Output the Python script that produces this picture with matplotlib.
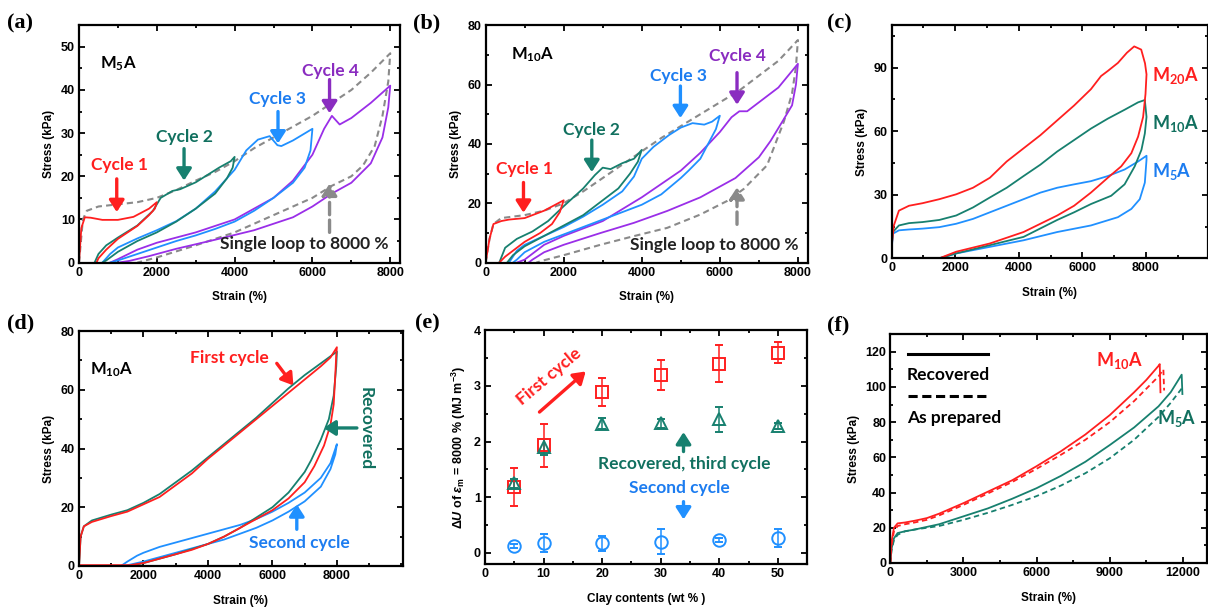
import matplotlib.pyplot as plt
from matplotlib.ticker import MultipleLocator

plt.rcParams['font.family'] = ['Liberation Sans', 'DejaVu Sans']
plt.rcParams['mathtext.fontset'] = 'custom'
plt.rcParams['mathtext.rm'] = 'Liberation Sans:bold'
plt.rcParams['mathtext.it'] = 'Liberation Sans:italic:bold'
plt.rcParams['mathtext.bf'] = 'Lato:bold'

RED = '#ff1f1f'
TEAL = '#17806f'
BLUE = '#2090ff'
PURPLE = '#9a2ee8'
GRAY = '#8a8a8a'
TEAL_T = '#11705f'
BLUE_T = '#1c7cf0'
PURPLE_T = '#8a2cc0'

# ---------- (a) M5A step cycles ----------
a_c1_x = [0, 60, 150, 300, 600, 1000, 1400, 1800, 2000, 1950, 1800, 1500, 1000, 700, 500, 450]
a_c1_y = [0, 8, 10.5, 10.4, 9.9, 9.9, 10.6, 12.5, 14, 12.5, 11, 8.5, 5.5, 3, 1, 0]
a_c2_x = [400, 500, 700, 1000, 1500, 1900, 2100, 2400, 2600, 3000, 3600, 3900, 4000, 3950, 3800, 3500, 3000, 2500, 2000, 1500, 1000, 700, 600]
a_c2_y = [0, 2, 4, 5.8, 8.6, 12, 15, 16.6, 17, 18.6, 22, 23.5, 24.5, 22, 19.5, 16, 12.5, 9.5, 7, 5, 2.5, 0.5, 0]
a_c3_x = [600, 800, 1000, 1500, 2000, 2500, 3000, 3500, 4000, 4300, 4600, 4900, 5100, 5200, 5500, 6000, 5950, 5800, 5500, 5000, 4500, 4000, 3500, 3000, 2500, 2000, 1500, 1000, 800]
a_c3_y = [0, 2, 3.5, 5.6, 7.5, 9.6, 12.5, 16.5, 21.5, 26, 28.5, 29.3, 27.2, 27, 28.3, 31, 26, 22, 18.5, 15, 12, 9.5, 7.8, 6.3, 5, 3.5, 2, 0.5, 0]
a_c4_x = [800, 1000, 1500, 2000, 3000, 4000, 5000, 5500, 6000, 6300, 6500, 6700, 7000, 7500, 8000, 7950, 7800, 7500, 7000, 6500, 6000, 5500, 4500, 3500, 2500, 1800, 1300, 1000]
a_c4_y = [0, 0.8, 3, 4.6, 7, 10, 15, 19, 25, 31, 34, 32, 33.5, 37, 41, 36, 29, 23, 18.5, 16, 13, 10.5, 7.5, 5.3, 3.2, 1.5, 0.4, 0]
a_sl_x = [0, 100, 200, 500, 1000, 1500, 2000, 2500, 3000, 3500, 4000, 4500, 5000, 5500, 6000, 6500, 7000, 7500, 8000, 7950, 7800, 7600, 7300, 7000, 6500, 6000, 5500, 5000, 4500, 4000, 3500, 3000, 2500, 2000, 1500]
a_sl_y = [0, 10, 12, 13, 13.5, 14, 15, 16.8, 19, 21, 23.5, 26.5, 29, 31.5, 34, 37, 40, 44, 48.5, 42, 34, 27, 22.5, 20, 17.8, 15, 13, 11, 9, 7, 5.5, 4, 2.6, 1.2, 0]

# ---------- (b) M10A step cycles ----------
b_c1_x = [0, 100, 200, 400, 600, 1000, 1500, 2000, 1900, 1700, 1400, 1000, 700, 500, 350]
b_c1_y = [0, 8, 13, 14, 14.5, 15, 17.5, 21, 17, 13, 10, 7, 4, 2, 0]
b_c2_x = [350, 500, 800, 1200, 1600, 2000, 2500, 2800, 3000, 3200, 3500, 3800, 4000, 3900, 3700, 3400, 3000, 2500, 2000, 1500, 1000, 700, 550]
b_c2_y = [0, 5, 8, 10.5, 14, 19, 25, 29.5, 32, 31.5, 33.5, 35, 38, 34, 30, 25, 21, 16, 12.5, 9, 5.5, 2.5, 0]
b_c3_x = [600, 800, 1000, 1500, 2000, 2500, 3000, 3500, 3800, 4000, 4300, 4700, 5000, 5300, 5600, 5800, 6000, 5900, 5700, 5500, 5200, 5000, 4500, 4000, 3500, 3000, 2500, 2000, 1500, 1000, 800, 700]
b_c3_y = [0, 4, 6, 9, 12, 15.5, 19.5, 24, 29, 35, 39, 43, 45.5, 47, 46.5, 47.5, 49.5, 45, 40, 35, 31, 28.5, 23, 19.5, 17, 14.5, 12, 9.5, 7, 3.5, 1, 0]
b_c4_x = [800, 1000, 1500, 2000, 3000, 4000, 5000, 5500, 6000, 6300, 6500, 6700, 7000, 7500, 8000, 7950, 7850, 7600, 7300, 7000, 6400, 5500, 4650, 3800, 2950, 2000, 1500, 1200, 1100]
b_c4_y = [0, 1, 6, 9, 14, 22, 31, 37, 44, 49, 51, 51, 54, 59, 67, 60, 53, 47.5, 41, 35.5, 28.5, 22, 17.4, 13.4, 10, 6, 3.5, 1, 0]
b_sl_x = [0, 100, 200, 400, 1000, 1500, 2000, 2500, 3000, 3500, 4000, 4500, 5000, 5500, 6000, 6500, 7000, 7500, 8000, 7950, 7850, 7640, 7210, 6610, 6190, 5500, 4650, 3790, 2940, 2000, 1500, 1300]
b_sl_y = [0, 8, 13, 15, 16, 17.5, 20, 24, 28.5, 33, 37.5, 42, 46, 50, 54, 58, 63, 68, 75, 66, 57, 47.5, 32.8, 24.8, 20.8, 16.2, 11.7, 8.9, 6, 2.5, 0.8, 0]

# ---------- (c) first cycles to 8000 % ----------
c_m20_x = [0, 20, 74, 233, 550, 974, 1504, 2033, 2563, 3092, 3622, 4151, 4681, 5210, 5740, 6269, 6587, 6799, 7117, 7400, 7630, 7850, 7970, 8017, 7985, 7910, 7752, 7540, 7222, 6799, 6269, 5740, 5210, 4151, 3092, 2033, 1504, 0]
c_m20_y = [0, 8, 15.5, 22.5, 24.8, 26, 27.9, 30.2, 33.3, 38, 45.7, 51.9, 58.1, 65.1, 72.1, 79.8, 86, 88.4, 92.2, 97, 100, 98.5, 92, 86.8, 77.5, 66.7, 57.4, 49.6, 43.4, 38, 31, 24.8, 20.2, 12.4, 7, 3.1, 0, 0]
c_m10_x = [0, 15, 42, 233, 550, 974, 1504, 2033, 2563, 3092, 3622, 4151, 4681, 5210, 5740, 6269, 6799, 7328, 7752, 7964, 8017, 7964, 7858, 7646, 7328, 6905, 6269, 5740, 5210, 4151, 3092, 2033, 1504]
c_m10_y = [0, 7, 12.4, 15.5, 16.6, 17.1, 18.1, 20.2, 24, 28.7, 33.3, 38.8, 44.2, 50.4, 55.8, 61.2, 65.9, 70.1, 73.6, 74.7, 66.7, 58.9, 51.2, 43.4, 34.9, 29.5, 25.6, 21.7, 18.1, 10.1, 6.2, 2.3, 0]
c_m5_x = [0, 15, 42, 233, 550, 974, 1504, 2033, 2563, 3092, 3622, 4151, 4681, 5210, 5740, 6269, 6799, 7328, 7752, 8017, 8017, 7964, 7805, 7540, 7117, 6269, 5210, 4151, 3092, 2033, 1504]
c_m5_y = [0, 6, 11.6, 13.2, 13.6, 14, 14.7, 16.3, 18.6, 21.7, 24.8, 27.9, 31, 33.3, 34.9, 36.4, 38.8, 41.9, 45.7, 48.4, 46.5, 35.7, 27.9, 23.3, 19.4, 15.5, 12.4, 8.5, 5.4, 2.3, 0]

# ---------- (d) M10A first / second / recovered ----------
d_first_x = [0, 50, 150, 400, 1000, 1500, 2000, 2500, 3000, 3500, 4000, 4500, 5000, 5500, 6000, 6500, 7000, 7500, 7800, 8000, 7980, 7950, 7900, 7800, 7600, 7300, 7000, 6500, 6000, 5500, 5000, 4500, 4000, 3500, 3000, 2500, 2000, 1600, 0]
d_first_y = [0, 10, 13.5, 15, 17, 18.5, 21, 23.5, 27.5, 31.5, 36.5, 41, 45.5, 50, 54.5, 59, 63.5, 68, 71, 74.5, 72, 65, 55, 48, 41, 34, 28.5, 23, 19, 16, 13, 10, 7.5, 5.5, 4, 2.5, 1, 0.3, 0.3]
d_rec_x = [0, 50, 150, 400, 1000, 1500, 2000, 2500, 3000, 3500, 4000, 4500, 5000, 5500, 6000, 6500, 7000, 7500, 8000, 7980, 7900, 7750, 7500, 7200, 7000, 6500, 6000, 5500, 5000, 4500, 4000, 3000, 2000, 1600, 0]
d_rec_y = [0, 10, 13.5, 15.5, 17.5, 19, 21.5, 24.5, 28.5, 32.5, 37, 41.5, 46, 50.5, 55.5, 60.5, 65, 69, 73, 68, 58, 50, 43, 36, 32, 25, 20, 16.5, 13, 10, 7.5, 4, 1, 0, 0]
d_sec_x = [1300, 1500, 1800, 2000, 2500, 3000, 3500, 4000, 4500, 5000, 5500, 6000, 6500, 7000, 7500, 7800, 8000, 7950, 7800, 7500, 7000, 6500, 6000, 5500, 5000, 4500, 4000, 3500, 3000, 2500, 2000, 1600, 1400]
d_sec_y = [0, 1.5, 3.5, 4.5, 6.5, 8, 9.5, 11, 12.5, 14, 16, 18.5, 21.5, 25, 30, 35, 41.5, 38, 33, 27, 22, 18.5, 15.5, 13, 11, 9, 7.5, 6, 4.5, 3, 1.5, 0.5, 0]

# ---------- (e) dissipated energy vs clay content ----------
clay = [5, 10, 20, 30, 40, 50]
du_first = [1.19, 1.93, 2.89, 3.2, 3.4, 3.6]
du_first_err = [0.34, 0.38, 0.26, 0.27, 0.33, 0.18]
du_rec = [1.25, 1.9, 2.32, 2.33, 2.4, 2.28]
du_rec_err = [0.08, 0.15, 0.1, 0.08, 0.22, 0.05]
du_second = [0.12, 0.18, 0.17, 0.2, 0.23, 0.27]
du_second_err = [0.04, 0.16, 0.14, 0.22, 0.04, 0.16]

# ---------- (f) tensile to break ----------
f_m10_rec_x = [0, 50, 150, 300, 600, 1000, 1500, 2000, 3000, 4000, 5000, 6000, 7000, 8000, 9000, 10000, 10500, 11000, 11050, 11080]
f_m10_rec_y = [0, 12, 20, 22.5, 23, 24, 25.5, 28, 34, 40.5, 47, 55, 63.5, 73, 84, 97, 104, 112, 113, 97]
f_m10_prep_x = [0, 50, 150, 300, 600, 1000, 1500, 2000, 3000, 4000, 5000, 6000, 7000, 8000, 9000, 10000, 10500, 11000, 11200, 11230]
f_m10_prep_y = [0, 10, 18, 21, 22, 23, 24.5, 27, 33, 39.5, 46, 53.5, 61.5, 70, 80, 92, 99, 106, 110, 98]
f_m5_rec_x = [0, 50, 150, 300, 600, 1000, 2000, 3000, 4000, 5000, 6000, 7000, 8000, 9000, 10000, 11000, 11500, 11950, 11980]
f_m5_rec_y = [0, 8, 14, 17, 18, 19, 22, 26.5, 31, 36.5, 42.5, 49.5, 57.5, 67, 77, 89, 97, 107, 96]
f_m5_prep_x = [0, 50, 150, 300, 600, 1000, 2000, 3000, 4000, 5000, 6000, 7000, 8000, 9000, 10000, 11000, 11500, 12000]
f_m5_prep_y = [0, 7, 13, 16, 18, 19, 21, 24.5, 28.5, 33, 38, 44, 51, 59.5, 70, 83, 91, 100]


def style(ax, xmaj, xmin, ymaj, ymin, xlim, ylim, xticks=None):
    ax.set_xlim(*xlim)
    ax.set_ylim(*ylim)
    ax.xaxis.set_major_locator(MultipleLocator(xmaj))
    ax.xaxis.set_minor_locator(MultipleLocator(xmin))
    ax.yaxis.set_major_locator(MultipleLocator(ymaj))
    ax.yaxis.set_minor_locator(MultipleLocator(ymin))
    if xticks is not None:
        ax.set_xticks(xticks)
    ax.tick_params(which='both', direction='in', top=True, right=True, width=1.3,
                   labelsize=9, pad=3)
    ax.tick_params(which='major', length=4.5)
    ax.tick_params(which='minor', length=2.5)
    for lab in ax.get_xticklabels() + ax.get_yticklabels():
        lab.set_fontweight('bold')
    for s in ax.spines.values():
        s.set_linewidth(1.6)


def labels(ax, xl='Strain (%)', yl='Stress (kPa)', ysize=8.5):
    ax.set_xlabel(xl, fontsize=8.5, fontweight='bold', labelpad=9)
    ax.set_ylabel(yl, fontsize=ysize, fontweight='bold', labelpad=4)


def arrow(ax, tail, tip, c, ls='-'):
    ax.annotate('', xy=tip, xytext=tail,
                arrowprops=dict(arrowstyle='-|>,head_width=0.45,head_length=0.7', color=c,
                                lw=2.4, linestyle=ls, shrinkA=0, shrinkB=0),
                annotation_clip=False)


def txt(ax, x, y, s, c, size=12.5, ha='center', **kw):
    ax.text(x, y, s, color=c, fontsize=size, fontweight='bold', family='Lato',
            ha=ha, va='center', **kw)


fig = plt.figure(figsize=(12.08, 6.15), dpi=100)
lw = 1.3

# (a)
ax = fig.add_axes([0.0654, 0.573, 0.2657, 0.386])
ax.plot(a_sl_x, a_sl_y, color=GRAY, lw=1.5, ls=(0, (3, 2)))
ax.plot(a_c4_x, a_c4_y, color=PURPLE, lw=lw)
ax.plot(a_c3_x, a_c3_y, color=BLUE, lw=lw)
ax.plot(a_c2_x, a_c2_y, color=TEAL, lw=lw)
ax.plot(a_c1_x, a_c1_y, color=RED, lw=lw)
style(ax, 2000, 1000, 10, 5, (0, 8250), (0, 55))
labels(ax)
txt(ax, 1000, 46, r'M$_\mathbf{5}$A', 'black', 12)
txt(ax, 1030, 22.5, 'Cycle 1', RED)
arrow(ax, (970, 19.4), (970, 11.7), RED)
txt(ax, 2700, 29.2, 'Cycle 2', TEAL_T)
arrow(ax, (2700, 26.4), (2700, 19), TEAL)
txt(ax, 5100, 37.9, 'Cycle 3', BLUE_T)
arrow(ax, (5115, 35), (5115, 27.6), BLUE)
txt(ax, 6470, 44.3, 'Cycle 4', PURPLE_T)
arrow(ax, (6440, 42.4), (6440, 34.6), PURPLE_T)
arrow(ax, (6440, 7), (6440, 18.3), GRAY, ls='--')
txt(ax, 5800, 4.3, 'Single loop to 8000 %', '#222222')

# (b)
ax = fig.add_axes([0.402, 0.573, 0.2666, 0.386])
ax.plot(b_sl_x, b_sl_y, color=GRAY, lw=1.5, ls=(0, (3, 2)))
ax.plot(b_c4_x, b_c4_y, color=PURPLE, lw=lw)
ax.plot(b_c3_x, b_c3_y, color=BLUE, lw=lw)
ax.plot(b_c2_x, b_c2_y, color=TEAL, lw=lw)
ax.plot(b_c1_x, b_c1_y, color=RED, lw=lw)
style(ax, 2000, 1000, 20, 10, (0, 8250), (0, 80))
labels(ax)
txt(ax, 1200, 70, r'M$_\mathbf{10}$A', 'black', 12)
txt(ax, 1000, 31.6, 'Cycle 1', RED)
arrow(ax, (970, 27), (970, 16.8), RED)
txt(ax, 2700, 44.7, 'Cycle 2', TEAL_T)
arrow(ax, (2720, 41.3), (2720, 30.5), TEAL)
txt(ax, 4950, 62.9, 'Cycle 3', BLUE_T)
arrow(ax, (4990, 59.5), (4990, 48.7), BLUE)
txt(ax, 6450, 69.7, 'Cycle 4', PURPLE_T)
arrow(ax, (6440, 64), (6440, 53.2), PURPLE_T)
arrow(ax, (6440, 12.9), (6440, 25.4), GRAY, ls='--')
txt(ax, 5850, 6, 'Single loop to 8000 %', '#222222')

# (c)
ax = fig.add_axes([0.738, 0.58, 0.262, 0.379])
ax.plot(c_m5_x, c_m5_y, color=BLUE, lw=lw)
ax.plot(c_m10_x, c_m10_y, color=TEAL, lw=lw)
ax.plot(c_m20_x, c_m20_y, color=RED, lw=lw)
style(ax, 2000, 1000, 30, 15, (0, 9950), (0, 110), xticks=[0, 2000, 4000, 6000, 8000])
labels(ax)
txt(ax, 8180, 86.5, r'M$_\mathbf{20}$A', RED, 13, ha='left')
txt(ax, 8180, 63.8, r'M$_\mathbf{10}$A', TEAL_T, 13, ha='left')
txt(ax, 8180, 41, r'M$_\mathbf{5}$A', BLUE_T, 13, ha='left')

# (d)
ax = fig.add_axes([0.0654, 0.0797, 0.2682, 0.382])
ax.plot(d_sec_x, d_sec_y, color=BLUE, lw=lw)
ax.plot(d_rec_x, d_rec_y, color=TEAL, lw=lw)
ax.plot(d_first_x, d_first_y, color=RED, lw=lw)
style(ax, 2000, 1000, 20, 10, (0, 10050), (0, 80), xticks=[0, 2000, 4000, 6000, 8000])
labels(ax)
txt(ax, 1000, 67, r'M$_\mathbf{10}$A', 'black', 12)
txt(ax, 4660, 70.7, 'First cycle', RED)
arrow(ax, (6135, 69), (6650, 61.5), RED)
txt(ax, 8880, 46.7, 'Recovered', TEAL_T, rotation=-90)
arrow(ax, (8620, 47), (7585, 47), TEAL)
txt(ax, 6830, 7.7, 'Second cycle', BLUE_T)
arrow(ax, (6756, 12.5), (6756, 21), BLUE)

# (e)
ax = fig.add_axes([0.4015, 0.083, 0.2666, 0.38])
mk = dict(ls='none', mfc='none', ms=9, mew=1.4, capsize=3, elinewidth=1.1, capthick=1.1)
ax.errorbar(clay, du_second, yerr=du_second_err, marker='o', color=BLUE, **mk)
ax.errorbar(clay, du_first, yerr=du_first_err, marker='s', color=RED, **mk)
ax.errorbar(clay, du_rec, yerr=du_rec_err, marker='^', color=TEAL, **mk)
style(ax, 10, 5, 1, 0.5, (0, 55), (-0.2, 4))
labels(ax, 'Clay contents (wt % )',
       r'$\mathit{\Delta U}$ of $\mathit{\varepsilon}_\mathrm{m}$ = 8000 % (MJ m$^{\mathrm{-3}}$)', 9)
txt(ax, 11, 3.17, 'First cycle', RED, rotation=40)
arrow(ax, (9.3, 2.53), (17.2, 3.26), RED)
arrow(ax, (33.9, 1.82), (33.9, 2.17), TEAL)
txt(ax, 34, 1.59, 'Recovered, third cycle', TEAL_T)
txt(ax, 33.2, 1.17, 'Second cycle', BLUE_T)
arrow(ax, (33.9, 0.92), (33.9, 0.6), BLUE)

# (f)
ax = fig.add_axes([0.737, 0.0846, 0.2624, 0.372])
ax.plot(f_m5_prep_x, f_m5_prep_y, color=TEAL, lw=lw, ls=(0, (3, 2)))
ax.plot(f_m5_rec_x, f_m5_rec_y, color=TEAL, lw=lw)
ax.plot(f_m10_prep_x, f_m10_prep_y, color=RED, lw=lw, ls=(0, (3, 2)))
ax.plot(f_m10_rec_x, f_m10_rec_y, color=RED, lw=lw)
style(ax, 3000, 1500, 20, 10, (0, 13000), (0, 130))
labels(ax)
ax.plot([746, 4000], [118.7, 118.7], color='black', lw=2.2)
ax.plot([746, 4000], [94.9, 94.9], color='black', lw=2.2, ls=(0, (3, 1.5)))
txt(ax, 678, 106.8, 'Recovered', 'black', ha='left')
txt(ax, 678, 82.6, 'As prepared', 'black', ha='left')
txt(ax, 9390, 115.3, r'M$_\mathbf{10}$A', RED, 13)
txt(ax, 11730, 82, r'M$_\mathbf{5}$A', TEAL_T, 13)

# panel letters
for lbl, x, y in [('(a)', 7, 23), ('(b)', 413, 23), ('(c)', 827, 23),
                  ('(d)', 7, 323), ('(e)', 415, 323), ('(f)', 827, 325)]:
    fig.text(x / 1208, 1 - y / 615, lbl, fontsize=16, fontweight='bold',
             family='Liberation Serif', va='center', ha='left')

fig.savefig('out.png', dpi=100)
